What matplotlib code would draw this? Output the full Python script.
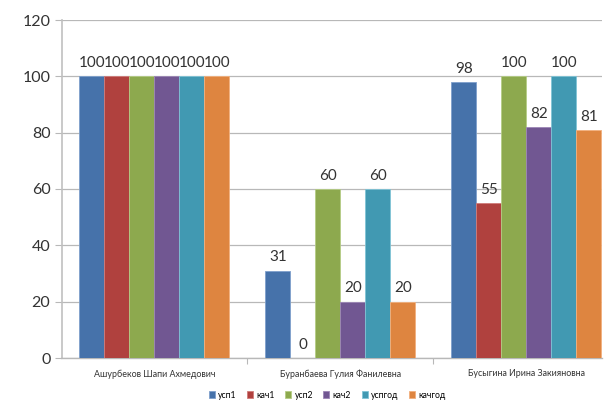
import matplotlib
matplotlib.use("Agg")
import matplotlib.pyplot as plt
import numpy as np

plt.rcParams['font.family'] = ['Lato', 'DejaVu Sans']

categories = ["Ашурбеков Шапи Ахмедович", "Буранбаева Гулия Фанилевна", "Бусыгина Ирина Закияновна"]
series_names = ["усп1", "кач1", "усп2", "кач2", "успгод", "качгод"]
usp1 = [100, 31, 98]
kach1 = [100, 0, 55]
usp2 = [100, 60, 100]
kach2 = [100, 20, 82]
uspgod = [100, 60, 100]
kachgod = [100, 20, 81]
series = [usp1, kach1, usp2, kach2, uspgod, kachgod]
colors = ['#4672AA', '#B0413E', '#8DA94E', '#715792', '#4199B2', '#DE8540']
edge_colors = ['#7FA0CC', '#D07C7A', '#B5CC85', '#9C86B5', '#80C4D6', '#F2B07E']

W, H = 608, 401
fig = plt.figure(figsize=(W / 100, H / 100), dpi=100)
ax = fig.add_axes([61.5 / W, 43 / H, 540.5 / W, 338 / H])

x = np.arange(len(categories))
bw = 25 / 186
n = len(series)
for i, (vals, c, ec, name) in enumerate(zip(series, colors, edge_colors, series_names)):
    pos = x - n * bw / 2 + (i + 0.5) * bw
    ax.bar(pos, vals, width=bw, color=c, edgecolor=ec, linewidth=0.6, label=name, zorder=3)
    for p, v in zip(pos, vals):
        ax.text(p, v + 2.2, str(v), ha='center', va='bottom', fontsize=11, color='#333333', zorder=4)

ax.set_xlim(-0.5, 2.406)
ax.set_ylim(0, 120)
ax.set_yticks(np.arange(0, 121, 20))
ax.yaxis.grid(True, color='#B8B8B8', linewidth=0.9, zorder=0)
ax.set_axisbelow(True)
for s in ['top', 'right']:
    ax.spines[s].set_visible(False)
ax.spines['left'].set_color('#C0C0C0')
ax.spines['left'].set_linewidth(1.2)
ax.spines['bottom'].set_color('#B8B8B8')
ax.spines['bottom'].set_linewidth(1.0)
ax.tick_params(axis='y', length=5, color='#B8B8B8', labelsize=11.5, labelcolor='#333333', pad=3)

ax.set_xticks([0.5, 1.5], minor=False)
ax.set_xticklabels(['', ''])
ax.tick_params(axis='x', length=4, color='#B8B8B8', direction='out')
for xi, lab in zip(x, categories):
    ax.text(xi, -4.0, lab, ha='center', va='top', fontsize=6.4, color='#333333', transform=ax.transData)

handles, labels = ax.get_legend_handles_labels()
fig.legend(handles, labels, loc='center', bbox_to_anchor=(327 / W, 1 - 395 / H), ncol=6,
           frameon=False, fontsize=6.2, handlelength=0.7, handleheight=0.7,
           handletextpad=0.4, columnspacing=1.2, borderaxespad=0)

fig.savefig("out.png", dpi=100)
